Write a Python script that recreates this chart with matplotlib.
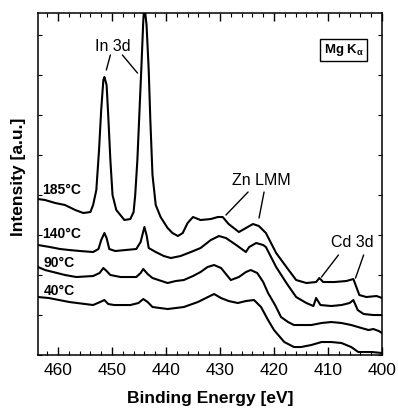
import matplotlib
matplotlib.use('Agg')
import matplotlib.pyplot as plt
from matplotlib.ticker import MultipleLocator

plt.rcParams['font.family'] = ['Liberation Sans', 'DejaVu Sans']
plt.rcParams['mathtext.fontset'] = 'custom'
plt.rcParams['mathtext.rm'] = 'Liberation Sans'
plt.rcParams['mathtext.bf'] = 'Liberation Sans:bold'

# binding energy [eV] and intensity [a.u.]
e_40 = [463.7, 461.7, 457.9, 453.5, 452.2, 451.4, 450.7, 449.6, 446.6, 445.1, 444.2,
        443.4, 442.5, 439.7, 436.7, 434.1, 432.6, 431.1, 429.8, 428.4, 426.7, 425.2,
        423.7, 422.4, 421.1, 420.0, 418.1, 416.3, 415.0, 413.1, 411.2, 409.4, 407.5,
        405.7, 404.4, 401.9, 400.0]
i_40 = [58, 57, 53, 50, 53, 55, 51, 50, 50, 52, 56,
        53, 48, 46, 48, 53, 57, 61, 57, 54, 52, 54,
        55, 48, 35, 25, 13, 8, 8, 10, 13, 13, 12,
        8, 3, 3, 2]

e_90 = [463.7, 462.4, 460.9, 458.7, 456.6, 453.5, 452.3, 451.6, 451.0, 450.3, 448.4,
        445.5, 444.7, 444.2, 443.4, 442.5, 439.7, 438.2, 436.7, 435.0, 433.6, 432.3,
        431.1, 429.8, 428.0, 426.5, 425.2, 424.3, 423.1, 422.0, 421.1, 419.8, 418.7,
        417.4, 416.3, 415.0, 413.1, 411.2, 409.4, 407.5, 405.7, 403.8, 402.5, 401.6,
        400.6, 400.0]
i_90 = [88, 85, 83, 80, 78, 79, 82, 87, 84, 80, 78,
        78, 82, 86, 81, 77, 72, 74, 75, 79, 83, 88,
        90, 87, 75, 78, 83, 85, 82, 73, 62, 50, 38,
        33, 30, 30, 30, 32, 33, 32, 30, 27, 25, 26,
        24, 22]

e_140 = [463.7, 461.5, 459.6, 457.9, 455.9, 453.5, 452.5, 452.0, 451.4, 451.0, 450.5,
         449.4, 447.5, 445.5, 444.7, 444.0, 443.6, 443.2, 441.9, 440.4, 439.1, 437.3,
         435.4, 433.6, 431.7, 430.2, 428.9, 427.0, 425.2, 424.6, 423.3, 422.0, 421.5,
         419.6, 417.7, 415.9, 414.0, 412.7, 412.2, 411.4, 409.4, 407.5, 406.0, 405.3,
         404.5, 403.4, 401.6, 400.0]
i_140 = [110, 108, 106, 105, 104, 103, 106, 115, 122, 117, 106,
         104, 105, 106, 113, 128, 120, 107, 103, 99, 97, 99,
         103, 107, 115, 119, 117, 110, 103, 108, 112, 110, 108,
         88, 72, 58, 52, 49, 57, 50, 49, 50, 52, 55,
         45, 41, 40, 40]

e_185 = [463.7, 462.4, 460.5, 458.7, 456.8, 455.3, 454.0, 453.5, 452.9, 452.4, 452.0,
         451.6, 451.4, 451.0, 450.7, 450.3, 449.9, 449.2, 447.7, 446.6, 446.0, 445.7,
         445.3, 444.9, 444.5, 444.2, 444.0, 443.6, 443.2, 442.9, 442.5, 441.9, 441.0,
         439.7, 438.8, 437.8, 436.9, 436.0, 435.0, 433.6, 431.7, 430.4, 429.5, 428.4,
         426.5, 425.2, 423.9, 422.8, 421.5, 419.6, 417.7, 415.9, 414.0, 412.2, 411.6,
         410.9, 408.8, 406.6, 405.3, 404.2, 402.9, 401.0, 400.0]
i_185 = [156, 155, 152, 150, 145, 142, 143, 150, 165, 205, 245,
         275, 278, 270, 240, 195, 160, 145, 135, 136, 143, 160,
         195, 245, 295, 335, 350, 330, 285, 235, 180, 150, 138,
         127, 122, 119, 122, 132, 138, 135, 136, 138, 138, 131,
         123, 127, 131, 129, 122, 102, 88, 75, 72, 73, 77,
         73, 73, 74, 76, 60, 58, 59, 57]

spectra = [(e_40, i_40), (e_90, i_90), (e_140, i_140), (e_185, i_185)]
temps = ['40°C', '90°C', '140°C', '185°C']

fig = plt.figure(figsize=(3.98, 4.12), dpi=100)
ax = fig.add_axes([0.0955, 0.1383, 0.8643, 0.8301])

for e, i in spectra:
    ax.plot(e, i, color='black', lw=1.5, solid_joinstyle='round')

ax.set_xlim(463.7, 400)
ax.set_ylim(0, 342)

ax.xaxis.set_major_locator(MultipleLocator(10))
ax.xaxis.set_minor_locator(MultipleLocator(2))
ax.yaxis.set_major_locator(MultipleLocator(40))
ax.tick_params(axis='x', which='major', direction='in', length=6, width=1,
               top=True, labelsize=12.5, pad=6)
ax.tick_params(axis='x', which='minor', direction='in', length=3, width=0.8, top=True)
ax.tick_params(axis='y', which='major', direction='in', length=3, width=0.8,
               right=True, labelleft=False)
for s in ax.spines.values():
    s.set_linewidth(1.1)

ax.set_xlabel('Binding Energy [eV]', fontsize=12.5, fontweight='bold', labelpad=9)
ax.set_ylabel('Intensity [a.u.]', fontsize=12.5, fontweight='bold')
ax.yaxis.set_label_coords(-0.035, 0.52)

# temperature labels
label_pos = [(462.6, 64), (462.6, 92), (462.9, 121), (462.9, 165)]
for t, (x, y) in zip(temps, label_pos):
    ax.text(x, y, t, fontsize=10, fontweight='bold', ha='left', va='center')

# peak annotations
ax.text(449.9, 309, 'In 3d', fontsize=11.5, ha='center', va='center')
ax.text(422.4, 175, 'Zn LMM', fontsize=11.5, ha='center', va='center')
ax.text(405.5, 113, 'Cd 3d', fontsize=11.5, ha='center', va='center')
lines = [((450.3, 300), (451.05, 285)), ((448.07, 300), (445.28, 282)),
         ((424.8, 163), (428.9, 140)), ((421.84, 163), (422.77, 137)),
         ((408.07, 100), (411.2, 78)), ((403.4, 100), (404.9, 77))]
for p0, p1 in lines:
    ax.annotate('', xy=p1, xytext=p0,
                arrowprops=dict(arrowstyle='-', color='black', lw=1, shrinkA=0, shrinkB=0))

ax.text(407.1, 305, r'Mg K$_\mathbf{\alpha}$', fontsize=9.5, fontweight='bold',
        ha='center', va='center',
        bbox=dict(boxstyle='square,pad=0.25', fc='white', ec='black', lw=1))

fig.savefig('out.png', dpi=100)
